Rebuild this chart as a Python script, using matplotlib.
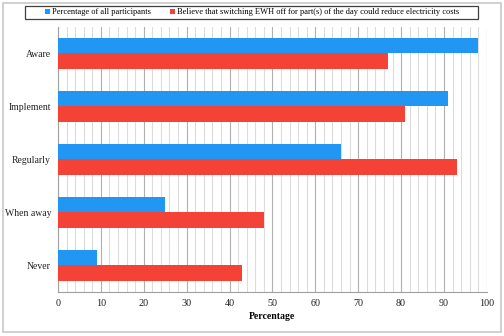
import matplotlib
matplotlib.use("Agg")
import matplotlib.pyplot as plt
import numpy as np
from matplotlib.patches import Rectangle

categories = ["Aware", "Implement", "Regularly", "When away", "Never"]
all_participants = [98, 91, 66, 25, 9]
believe_reduce = [77, 81, 93, 48, 43]
series_labels = ["Percentage of all participants",
                 "Believe that switching EWH off for part(s) of the day could reduce electricity costs"]
xticks = list(range(0, 101, 10))

plt.rcParams['font.family'] = ['Liberation Serif', 'DejaVu Serif']

fig = plt.figure(figsize=(5.04, 3.36), dpi=100)
ax = fig.add_axes([0.115, 0.131, 0.851, 0.789])

blue = "#2196F3"
red = "#F44336"
y = np.arange(len(categories))[::-1].astype(float)
h = 0.29
ax.barh(y + h / 2, all_participants, height=h, color=blue, label=series_labels[0], zorder=3)
ax.barh(y - h / 2, believe_reduce, height=h, color=red, label=series_labels[1], zorder=3)

ax.set_xlim(0, 100)
ax.set_ylim(-0.5, len(categories) - 0.5)
ax.set_yticks(y)
ax.set_yticklabels(categories, fontsize=7)
ax.set_xticks(xticks)
ax.set_xticklabels([str(t) for t in xticks], fontsize=7.3)
ax.set_xticks(np.arange(0, 101, 2), minor=True)
ax.grid(axis='x', which='major', color='#b0b0b0', linewidth=0.8, zorder=0)
ax.grid(axis='x', which='minor', color='#dcdcdc', linewidth=0.8, zorder=0)
ax.tick_params(axis='both', which='both', length=0, colors='#222222')
ax.tick_params(axis='y', pad=5)
ax.tick_params(axis='x', pad=5)
for s in ['top', 'right']:
    ax.spines[s].set_visible(False)
for s in ['left', 'bottom']:
    ax.spines[s].set_color('#a0a0a0')
    ax.spines[s].set_linewidth(0.8)
ax.set_xlabel("Percentage", fontsize=7, fontweight='bold', labelpad=3)

leg = fig.legend(loc='center', bbox_to_anchor=(0.5, 1 - 12.5 / 336), ncol=2, fontsize=6,
                 frameon=False, handlelength=0.6,
                 handleheight=0.6, handletextpad=0.3, columnspacing=2.2, borderpad=0.0)

fig.patches.append(Rectangle((25 / 504, 1 - 19 / 336), 453 / 504, 13 / 336,
                             transform=fig.transFigure, fill=False,
                             edgecolor='#404040', linewidth=0.9))
fig.patches.append(Rectangle((0.006, 0.012), 0.988, 0.978, transform=fig.transFigure,
                             fill=False, edgecolor='#c8c8c8', linewidth=1.2))

fig.savefig("out.png", dpi=100)
